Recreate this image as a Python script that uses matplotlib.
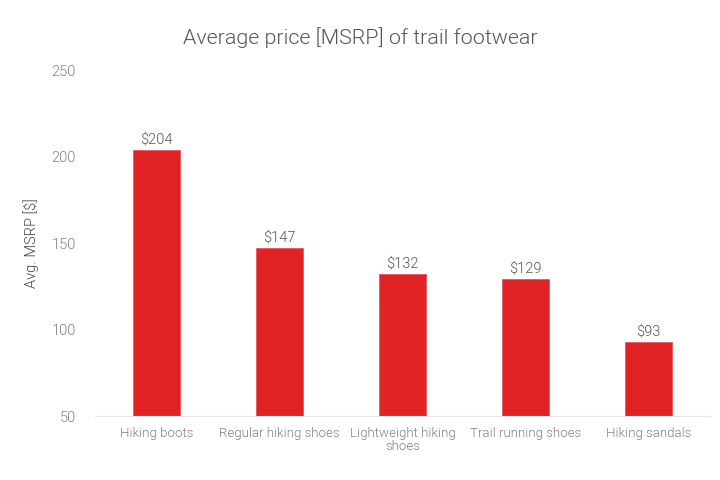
import matplotlib
matplotlib.use("Agg")
import matplotlib.pyplot as plt

categories = ["Hiking boots", "Regular hiking shoes", "Lightweight hiking\nshoes",
              "Trail running shoes", "Hiking sandals"]
values = [204, 147, 132, 129, 93]
yticks = [50, 100, 150, 200, 250]

plt.rcParams['font.family'] = ['Roboto', 'DejaVu Sans']
W = 300

fig = plt.figure(figsize=(7.2, 4.8), dpi=100)
ax = fig.add_axes([0.132, 0.1333, 0.854, 0.7207])

x = list(range(len(categories)))
ax.bar(x, values, width=0.38, color="#E02225", edgecolor="#E8585A", linewidth=0.6)
ax.set_ylim(50, 250)
ax.set_xlim(-0.5, len(categories) - 0.5)
ax.set_yticks(yticks)
ax.set_xticks(x)
ax.set_xticklabels(categories, fontsize=9.5, color="#808080", fontweight=W, linespacing=1.0)
for t in ax.get_yticklabels():
    t.set_fontweight(W)
ax.tick_params(axis='y', length=0, pad=14, labelsize=10.5, labelcolor="#808080")
ax.tick_params(axis='x', length=0, pad=8)
for s in ["top", "right", "left"]:
    ax.spines[s].set_visible(False)
ax.spines["bottom"].set_color("#e6e6e6")
ax.spines["bottom"].set_linewidth(0.8)

for xi, v in zip(x, values):
    ax.text(xi, v + 2, f"${v}", ha="center", va="bottom", fontsize=10.5, color="#555555", fontweight=W)

ax.set_ylabel("Avg. MSRP [$]", fontsize=10.5, color="#444444", labelpad=9, fontweight=W)
fig.text(0.5, 0.922, "Average price [MSRP] of trail footwear", ha="center", va="center",
         fontsize=15.4, color="#555555", fontweight=W)

fig.savefig("out.png", dpi=100)
